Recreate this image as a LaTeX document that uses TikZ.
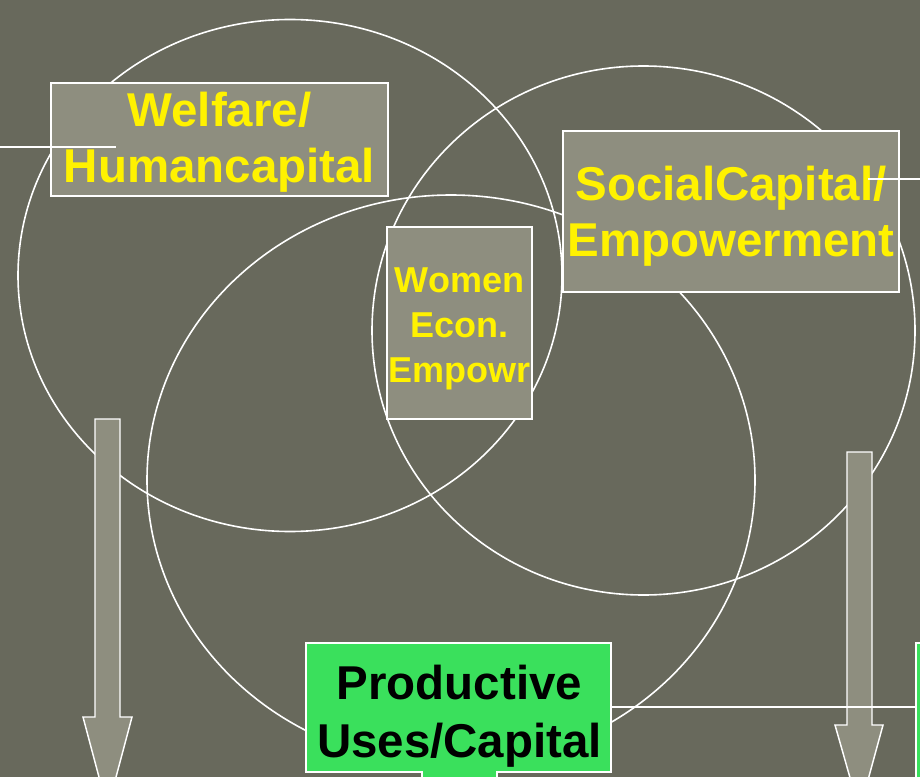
\documentclass[tikz,border=0pt]{standalone}
\usepackage{fontspec}
\setmainfont{Liberation Sans}
\definecolor{bgolive}{RGB}{104,105,92}
\definecolor{boxgrey}{RGB}{142,142,127}
\definecolor{prodgreen}{RGB}{58,224,92}
\tikzset{
  ring/.style={draw=white, line width=1.2pt},
  greybox/.style={draw=white, line width=1.1pt, fill=boxgrey, inner sep=0pt, align=center, text=yellow, text depth=0pt},
  bigtext/.style={font=\bfseries\fontsize{35.6}{42.5}\selectfont},
  smalltext/.style={font=\bfseries\fontsize{27}{33.75}\selectfont},
  greenshape/.style={draw=white, line width=1.1pt, fill=prodgreen},
  downarrow/.style={draw=white, line width=1.1pt, fill=boxgrey},
  link/.style={draw=white, line width=0.9pt}
}
\begin{document}
\begin{tikzpicture}[x=0.75pt,y=0.75pt,yscale=-1]
\useasboundingbox (0,0) rectangle (920,777);
\clip (0,0) rectangle (920,777);
\fill[bgolive] (0,0) rectangle (920,777);

%Shape: Ellipse
\draw[ring] (290,275.5) ellipse [x radius=272, y radius=256];
%Shape: Ellipse
\draw[ring] (643.5,330.5) ellipse [x radius=271.5, y radius=264.5];
%Shape: Ellipse
\draw[ring] (451,480) ellipse [x radius=304, y radius=285];

% Grey boxes
\node[greybox, bigtext, text height=65.25pt, minimum width=252.75pt, minimum height=84.75pt] (welfare) at (219.5,139.5) {Welfare/\\Humancapital};
\node[greybox, bigtext, text height=68.25pt, minimum width=252pt, minimum height=120.75pt] (social) at (731,211.5) {SocialCapital/\\Empowerment};
\node[greybox, smalltext, text height=88.5pt, minimum width=108.75pt, minimum height=144pt] (women) at (459.5,323) {Women\\Econ.\\Empowr};

%Shape: green box with neck
\draw[greenshape] (306,643) -- (611,643) -- (611,772) -- (497,772) -- (497,800) -- (422,800) -- (422,772) -- (306,772) -- cycle;
\draw[greenshape] (916,643) rectangle (950,800);
\node[bigtext, align=center, inner sep=0pt, text=black, font=\bfseries\fontsize{35.6}{43.5}\selectfont] (prod) at (459.5,716) {Productive\\Uses/Capital};

%Shape: down arrows
\draw[downarrow] (95,419) -- (120,419) -- (120,717) -- (132,717) -- (107.5,809) -- (83,717) -- (95,717) -- cycle;
\draw[downarrow] (847,452) -- (872,452) -- (872,725) -- (883,725) -- (859.5,811) -- (835,725) -- (847,725) -- cycle;

% Straight lines
\coordinate (wleft) at (0,147);
\coordinate (wend) at (116,147);
\coordinate (sstart) at (868,179);
\coordinate (sright) at (920,179);
\coordinate (prodside) at (611,707);
\coordinate (nextgreen) at (916,707);
\draw[link] (wleft) -- (wend);
\draw[link] (sstart) -- (sright);
\draw[link] (prodside) -- (nextgreen);

\end{tikzpicture}
\end{document}
